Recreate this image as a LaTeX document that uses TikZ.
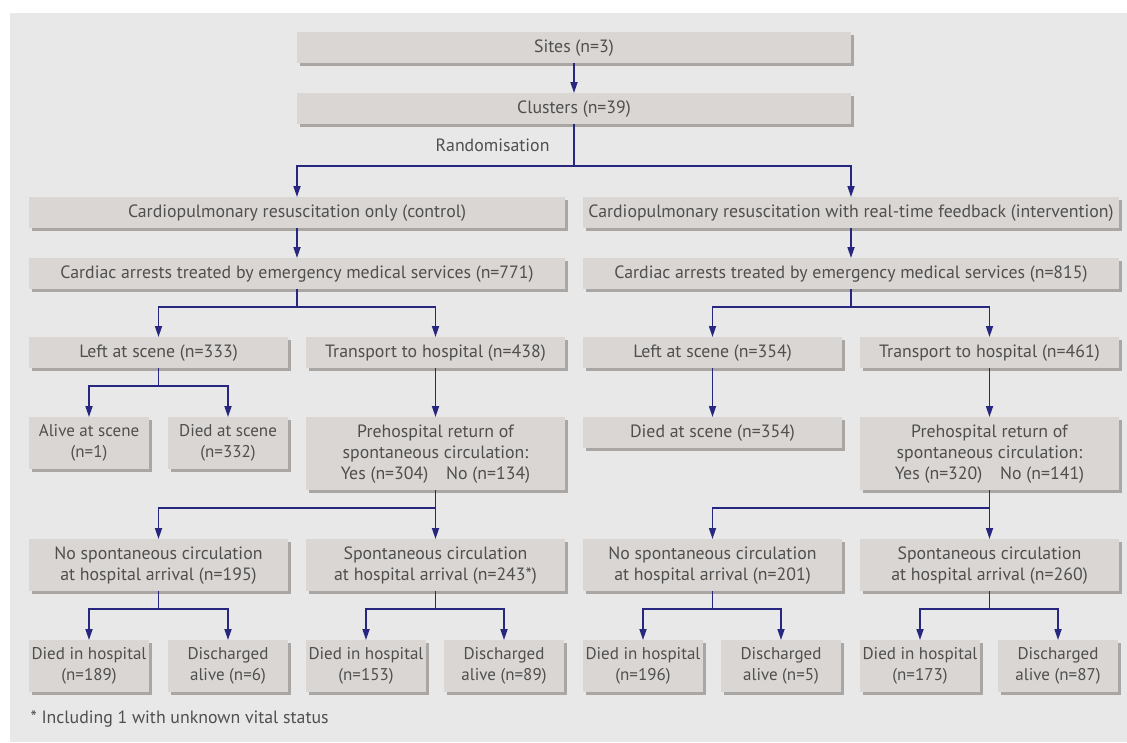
\documentclass[tikz,border=0pt]{standalone}
\usepackage{fontspec}
\setmainfont{PT Sans}
\usepackage{xcolor}
\usetikzlibrary{arrows.meta,shadows}
\definecolor{panelgrey}{HTML}{E8E8E8}
\definecolor{boxgrey}{HTML}{DAD6D3}
\definecolor{shadegrey}{HTML}{A9A6A4}
\definecolor{linkblue}{HTML}{27277F}
\definecolor{textgrey}{HTML}{4F4F4F}
\begin{document}
\begin{tikzpicture}[x=1pt,y=-1pt,
  flowbox/.style={rectangle,fill=boxgrey,inner sep=0pt,anchor=north,align=center,
    text=textgrey,font=\fontsize{17.8}{21}\selectfont,
    drop shadow={shadow xshift=3pt,shadow yshift=-3pt,fill=shadegrey,opacity=1}},
  one/.style={minimum height=31pt},
  two/.style={minimum height=52pt},
  three/.style={minimum height=73pt},
  wfull/.style={minimum width=554pt},
  whalf/.style={minimum width=536pt},
  wquart/.style={minimum width=259pt},
  weighth/.style={minimum width=120pt,font=\fontsize{17}{21}\selectfont},
  link/.style={draw=linkblue,line width=1.7pt},
  arr/.style={link,-{Triangle[length=11pt,width=7pt]}},
  plain/.style={text=textgrey,font=\fontsize{17.8}{21}\selectfont}]
\useasboundingbox (0,0) rectangle (1127,742);
\fill[panelgrey] (10,13) rectangle (1127,742);

\node[flowbox,one,wfull] (sites) at (574,32) {Sites (n=3)};
\node[flowbox,one,wfull] (clus) at (574,93) {Clusters (n=39)};
\node[plain,anchor=east] (rand) at (553,145) {Randomisation};

\node[flowbox,one,whalf] (ctrl) at (297,197) {Cardiopulmonary resuscitation only (control)};
\node[flowbox,one,whalf] (intv) at (851,197) {Cardiopulmonary resuscitation with real-time feedback (intervention)};
\node[flowbox,one,whalf] (ca1) at (297,258) {Cardiac arrests treated by emergency medical services (n=771)};
\node[flowbox,one,whalf] (ca2) at (851,258) {Cardiac arrests treated by emergency medical services (n=815)};

\node[flowbox,one,wquart] (left1) at (158.5,337) {Left at scene (n=333)};
\node[flowbox,one,wquart] (trans1) at (435.5,337) {Transport to hospital (n=438)};
\node[flowbox,one,wquart] (left2) at (712.5,337) {Left at scene (n=354)};
\node[flowbox,one,wquart] (trans2) at (989.5,337) {Transport to hospital (n=461)};

\node[flowbox,two,weighth] (alive1) at (89,417) {Alive at scene\\(n=1)};
\node[flowbox,two,weighth] (died1) at (228,417) {Died at scene\\(n=332)};
\node[flowbox,three,wquart] (pre1) at (435.5,417) {Prehospital return of\\spontaneous circulation:\\Yes (n=304)\quad No (n=134)};
\node[flowbox,one,wquart] (died2) at (712.5,417) {Died at scene (n=354)};
\node[flowbox,three,wquart] (pre2) at (989.5,417) {Prehospital return of\\spontaneous circulation:\\Yes (n=320)\quad No (n=141)};

\node[flowbox,two,wquart] (nosp1) at (158.5,539) {No spontaneous circulation\\at hospital arrival (n=195)};
\node[flowbox,two,wquart] (sp1) at (435.5,539) {Spontaneous circulation\\at hospital arrival (n=243*)};
\node[flowbox,two,wquart] (nosp2) at (712.5,539) {No spontaneous circulation\\at hospital arrival (n=201)};
\node[flowbox,two,wquart] (sp2) at (989.5,539) {Spontaneous circulation\\at hospital arrival (n=260)};

\node[flowbox,two,weighth] (dh1) at (89,640) {Died in hospital\\(n=189)};
\node[flowbox,two,weighth] (da1) at (228,640) {Discharged\\alive (n=6)};
\node[flowbox,two,weighth] (dh2) at (366,640) {Died in hospital\\(n=153)};
\node[flowbox,two,weighth] (da2) at (504,640) {Discharged\\alive (n=89)};
\node[flowbox,two,weighth] (dh3) at (643,640) {Died in hospital\\(n=196)};
\node[flowbox,two,weighth] (da3) at (781,640) {Discharged\\alive (n=5)};
\node[flowbox,two,weighth] (dh4) at (920,640) {Died in hospital\\(n=173)};
\node[flowbox,two,weighth] (da4) at (1058,640) {Discharged\\alive (n=87)};

\node[plain,anchor=west] (note) at (27,719) {* Including 1 with unknown vital status};

\coordinate (br0) at (574,166.3);
\coordinate (br1) at (297,306.7);
\coordinate (br2) at (851,306.7);
\coordinate (br3) at (158.5,386);
\coordinate (br4) at (435.5,508.3);
\coordinate (br5) at (989.5,508.3);
\coordinate (br6) at (158.5,609.3);
\coordinate (br7) at (435.5,609.3);
\coordinate (br8) at (712.5,609.3);
\coordinate (br9) at (989.5,609.3);

\draw[arr] (sites.south) -- (clus.north);
\draw[link] (clus.south) -- (br0);
\draw[arr] (br0) -| (ctrl.north);
\draw[arr] (br0) -| (intv.north);
\draw[arr] (ctrl.south) -- (ca1.north);
\draw[arr] (intv.south) -- (ca2.north);

\draw[link] (ca1.south) -- (br1);
\draw[arr] (br1) -| (left1.north);
\draw[arr] (br1) -| (trans1.north);
\draw[link] (ca2.south) -- (br2);
\draw[arr] (br2) -| (left2.north);
\draw[arr] (br2) -| (trans2.north);

\draw[link] (left1.south) -- (br3);
\draw[arr] (br3) -| (alive1.north);
\draw[arr] (br3) -| (died1.north);
\draw[arr] (trans1.south) -- (pre1.north);
\draw[arr] (left2.south) -- (died2.north);
\draw[arr] (trans2.south) -- (pre2.north);

\draw[arr] (pre1.south) -- (sp1.north);
\draw[arr] (br4) -| (nosp1.north);
\draw[arr] (pre2.south) -- (sp2.north);
\draw[arr] (br5) -| (nosp2.north);

\draw[link] (nosp1.south) -- (br6);
\draw[arr] (br6) -| (dh1.north);
\draw[arr] (br6) -| (da1.north);
\draw[link] (sp1.south) -- (br7);
\draw[arr] (br7) -| (dh2.north);
\draw[arr] (br7) -| (da2.north);
\draw[link] (nosp2.south) -- (br8);
\draw[arr] (br8) -| (dh3.north);
\draw[arr] (br8) -| (da3.north);
\draw[link] (sp2.south) -- (br9);
\draw[arr] (br9) -| (dh4.north);
\draw[arr] (br9) -| (da4.north);
\end{tikzpicture}
\end{document}
